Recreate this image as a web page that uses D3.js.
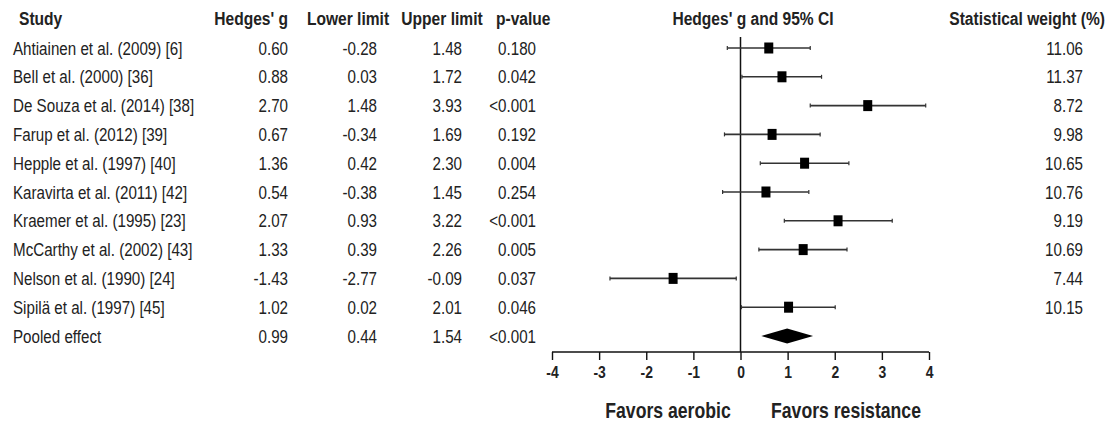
<!DOCTYPE html>
<html>
<head>
<meta charset="utf-8">
<script src="https://cdn.jsdelivr.net/npm/d3@7"></script>
<style>
  body { margin: 0; background: #fff; }
  svg text { font-family: "Liberation Sans", Arial, sans-serif; fill: #222; }
</style>
</head>
<body>
<svg id="forest" width="1114" height="422"></svg>
<script>
// data
const studies = [
  "Ahtiainen et al. (2009) [6]", "Bell et al. (2000) [36]", "De Souza et al. (2014) [38]",
  "Farup et al. (2012) [39]", "Hepple et al. (1997) [40]", "Karavirta et al. (2011) [42]",
  "Kraemer et al. (1995) [23]", "McCarthy et al. (2002) [43]", "Nelson et al. (1990) [24]",
  "Sipilä et al. (1997) [45]"
]
const hedgesG = [0.60, 0.88, 2.70, 0.67, 1.36, 0.54, 2.07, 1.33, -1.43, 1.02]
const lowerLimit = [-0.28, 0.03, 1.48, -0.34, 0.42, -0.38, 0.93, 0.39, -2.77, 0.02]
const upperLimit = [1.48, 1.72, 3.93, 1.69, 2.30, 1.45, 3.22, 2.26, -0.09, 2.01]
const pValues = ["0.180", "0.042", "<0.001", "0.192", "0.004", "0.254", "<0.001", "0.005", "0.037", "0.046"]
const weights = ["11.06", "11.37", "8.72", "9.98", "10.65", "10.76", "9.19", "10.69", "7.44", "10.15"]

const pooledLabel = "Pooled effect"
const pooled = { g: 0.99, lo: 0.44, hi: 1.54, p: "<0.001" }

const headers = ["Study", "Hedges' g", "Lower limit", "Upper limit", "p-value"]
const plotTitle = "Hedges' g and 95% CI"
const weightTitle = "Statistical weight (%)"
const xTicks = [-4, -3, -2, -1, 0, 1, 2, 3, 4]
const sideLabels = ["Favors aerobic", "Favors resistance"]

const svg = d3.select("#forest")

const x = d3.scaleLinear().domain([-4, 4]).range([552, 929])
const rowIdx = d3.range(studies.length + 1)
const y = d3.scalePoint().domain(rowIdx).range([48, 336])

// plain hyphen like the original, not the unicode minus
const fmt = v => d3.format(".2f")(v).replace("\u2212", "-")

// no narrow font installed -> squeeze the text horizontally
const SQ = 0.82
function put(sel, px, py) {
  return sel.attr("transform", "translate(" + px + "," + py + ") scale(" + SQ + ",1)")
}

const rows = studies.map((s, i) => ({
  name: s, g: hedgesG[i], lo: lowerLimit[i], hi: upperLimit[i], p: pValues[i], w: weights[i]
}))
const allRows = rows.concat([{ name: pooledLabel, g: pooled.g, lo: pooled.lo, hi: pooled.hi, p: pooled.p, w: "" }])

// header
const head = svg.append("g").attr("class", "header")
  .style("font-weight", "bold").style("font-size", "19px")
const headPos = [[19, "start"], [288, "end"], [348, "middle"], [442, "middle"], [496, "start"]]
headers.forEach((h, i) => {
  put(head.append("text"), headPos[i][0], 25)
    .attr("text-anchor", headPos[i][1])
    .text(h)
})
put(head.append("text"), 753, 25).attr("text-anchor", "middle").text(plotTitle)
put(head.append("text"), 1105, 25).attr("text-anchor", "end").text(weightTitle)

// table body
const body = svg.append("g").attr("class", "table").style("font-size", "18.5px")
const cells = body.selectAll("g.row")
  .data(allRows)
  .enter().append("g")
  .attr("class", "row")
  .attr("transform", (d, i) => "translate(0," + (y(i) + 6.5) + ")")

put(cells.append("text"), 13, 0).text(d => d.name)
put(cells.append("text"), 288, 0).attr("text-anchor", "end").text(d => fmt(d.g))
put(cells.append("text"), 377, 0).attr("text-anchor", "end").text(d => fmt(d.lo))
put(cells.append("text"), 462, 0).attr("text-anchor", "end").text(d => fmt(d.hi))
put(cells.append("text"), 536, 0).attr("text-anchor", "end").text(d => d.p)
put(cells.append("text"), 1083, 0).attr("text-anchor", "end").text(d => d.w)

// forest plot
const plot = svg.append("g").attr("class", "plot")

const axisY = 352

// zero line
plot.append("line")
  .attr("x1", x(0)).attr("x2", x(0))
  .attr("y1", 37).attr("y2", axisY)
  .attr("stroke", "#111").attr("stroke-width", 1.5)

const ci = plot.selectAll("g.ci")
  .data(rows)
  .enter().append("g")
  .attr("class", "ci")

ci.append("line")
  .attr("x1", d => x(d.lo)).attr("x2", d => x(d.hi))
  .attr("y1", (d, i) => y(i)).attr("y2", (d, i) => y(i))
  .attr("stroke", "#333").attr("stroke-width", 1.6)
ci.append("line")
  .attr("x1", d => x(d.lo)).attr("x2", d => x(d.lo))
  .attr("y1", (d, i) => y(i) - 2).attr("y2", (d, i) => y(i) + 2)
  .attr("stroke", "#333").attr("stroke-width", 1.2)
ci.append("line")
  .attr("x1", d => x(d.hi)).attr("x2", d => x(d.hi))
  .attr("y1", (d, i) => y(i) - 2).attr("y2", (d, i) => y(i) + 2)
  .attr("stroke", "#333").attr("stroke-width", 1.2)
ci.append("rect")
  .attr("x", d => x(d.g) - 4.5).attr("y", (d, i) => y(i) - 5.5)
  .attr("width", 9).attr("height", 11)
  .attr("fill", "#000")

// pooled diamond
const py = y(studies.length)
plot.append("path")
  .attr("d", "M" + x(pooled.lo) + "," + py +
             "L" + x(pooled.g) + "," + (py - 7.5) +
             "L" + x(pooled.hi) + "," + py +
             "L" + x(pooled.g) + "," + (py + 7.5) + "Z")
  .attr("fill", "#000")

// x axis
const axis = plot.append("g")
  .attr("transform", "translate(0," + axisY + ")")
  .call(d3.axisBottom(x).tickValues(xTicks).tickSize(8).tickPadding(6).tickFormat(d3.format("d")))
axis.select(".domain").attr("stroke", "#111").attr("stroke-width", 1.6)
  .attr("d", "M" + x(-4) + ",0H" + x(4))
axis.selectAll(".tick line").attr("stroke", "#111").attr("stroke-width", 1.4)
axis.selectAll(".tick text")
  .style("font-family", "'Liberation Sans', Arial, sans-serif")
  .style("font-size", "17px").style("font-weight", "bold").attr("fill", "#222")
  .attr("transform", "scale(" + SQ + ",1)")
  .text(d => d < 0 ? "-" + Math.abs(d) : d)

// favors labels
const fav = svg.append("g").style("font-weight", "bold").style("font-size", "21.5px")
fav.selectAll("text")
  .data(sideLabels)
  .enter().append("text")
  .attr("text-anchor", "middle")
  .each(function (d, i) { put(d3.select(this), i === 0 ? 668 : 846, 418) })
  .text(d => d)
</script>
</body>
</html>
